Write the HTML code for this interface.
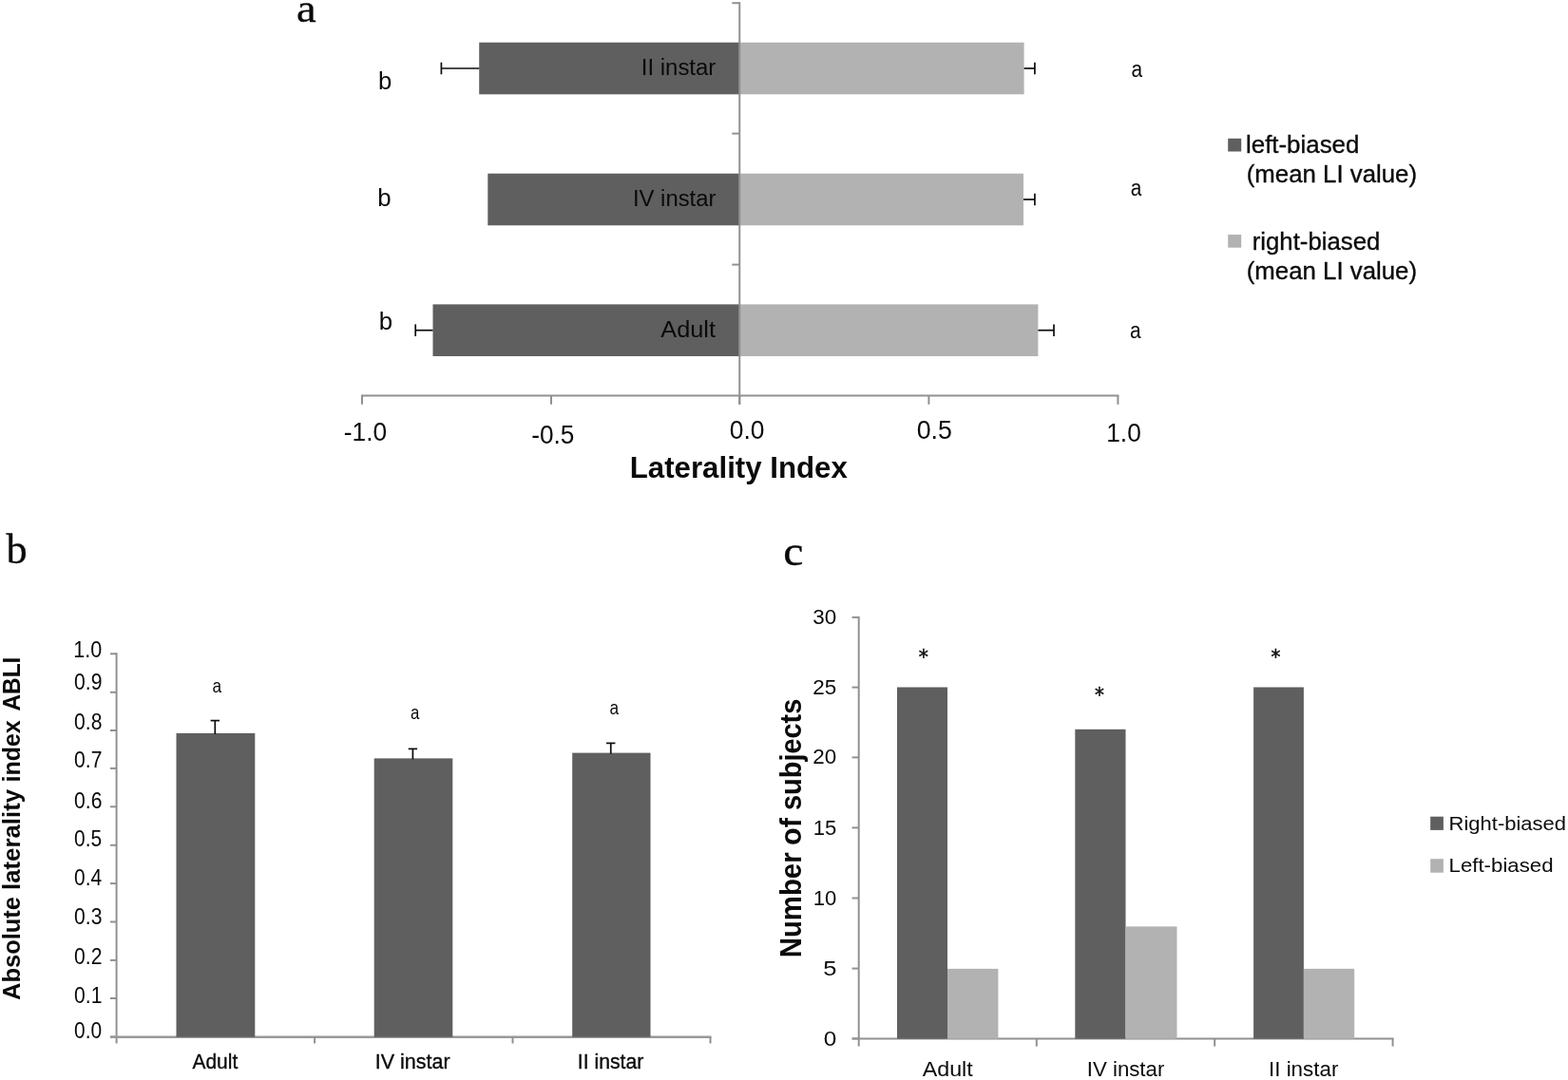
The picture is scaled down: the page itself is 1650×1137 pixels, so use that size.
<!DOCTYPE html>
<html lang="en"><head><meta charset="utf-8"><title>Laterality Index figure</title>
<style>
html,body{margin:0;padding:0;background:#fff}
body{width:1650px;height:1137px;overflow:hidden;font-family:"Liberation Sans",sans-serif}
svg{display:block}
text{white-space:pre}
</style></head><body>
<svg width="1650" height="1137" viewBox="0 0 1650 1137">
<rect width="1650" height="1137" fill="#ffffff"/>
<defs><filter id="soft" x="-2%" y="-2%" width="104%" height="104%" color-interpolation-filters="sRGB"><feGaussianBlur stdDeviation="0.4"/></filter></defs>
<g filter="url(#soft)">
<g id="shapes">
<line x1="770.3" y1="3.2" x2="778.25" y2="3.2" stroke="#919191" stroke-width="2.0"/>
<line x1="770.3" y1="140.6" x2="778.25" y2="140.6" stroke="#919191" stroke-width="2.0"/>
<line x1="770.3" y1="278.6" x2="778.25" y2="278.6" stroke="#919191" stroke-width="2.0"/>
<line x1="380" y1="416.4" x2="1177.4" y2="416.4" stroke="#919191" stroke-width="2.0"/>
<line x1="381" y1="416.4" x2="381" y2="425.8" stroke="#919191" stroke-width="2.0"/>
<line x1="580" y1="416.4" x2="580" y2="425.8" stroke="#919191" stroke-width="2.0"/>
<line x1="778.25" y1="416.4" x2="778.25" y2="425.8" stroke="#919191" stroke-width="2.0"/>
<line x1="977.4" y1="416.4" x2="977.4" y2="425.8" stroke="#919191" stroke-width="2.0"/>
<line x1="1176.4" y1="416.4" x2="1176.4" y2="425.8" stroke="#919191" stroke-width="2.0"/>
<rect x="504.2" y="44.7" width="274.05" height="54.6" fill="#5f5f5f"/>
<rect x="778.25" y="44.7" width="299.35" height="54.6" fill="#b2b2b2"/>
<line x1="464.4" y1="72.0" x2="504.2" y2="72.0" stroke="#0c0c0c" stroke-width="1.7"/>
<line x1="464.4" y1="65.7" x2="464.4" y2="78.3" stroke="#0c0c0c" stroke-width="1.7"/>
<line x1="1077.6" y1="72.0" x2="1088.9" y2="72.0" stroke="#0c0c0c" stroke-width="1.7"/>
<line x1="1088.9" y1="65.7" x2="1088.9" y2="78.3" stroke="#0c0c0c" stroke-width="1.7"/>
<rect x="513.3" y="182.7" width="264.95" height="54.6" fill="#5f5f5f"/>
<rect x="778.25" y="182.7" width="298.75" height="54.6" fill="#b2b2b2"/>
<line x1="1077" y1="210.0" x2="1088.9" y2="210.0" stroke="#0c0c0c" stroke-width="1.7"/>
<line x1="1088.9" y1="203.7" x2="1088.9" y2="216.3" stroke="#0c0c0c" stroke-width="1.7"/>
<rect x="455.5" y="320.4" width="322.75" height="54.6" fill="#5f5f5f"/>
<rect x="778.25" y="320.4" width="314.15" height="54.6" fill="#b2b2b2"/>
<line x1="437.2" y1="347.7" x2="455.5" y2="347.7" stroke="#0c0c0c" stroke-width="1.7"/>
<line x1="437.2" y1="341.4" x2="437.2" y2="354.0" stroke="#0c0c0c" stroke-width="1.7"/>
<line x1="1092.4" y1="347.7" x2="1109" y2="347.7" stroke="#0c0c0c" stroke-width="1.7"/>
<line x1="1109" y1="341.4" x2="1109" y2="354.0" stroke="#0c0c0c" stroke-width="1.7"/>
<line x1="778.25" y1="2.2" x2="778.25" y2="425.8" stroke="#919191" stroke-width="2.0"/>
<rect x="1292.2" y="145.8" width="14" height="13.7" fill="#5f5f5f"/>
<rect x="1292.2" y="247" width="14" height="13.7" fill="#b2b2b2"/>
<line x1="122.6" y1="687.3" x2="122.6" y2="1098.5" stroke="#919191" stroke-width="2.0"/>
<line x1="116" y1="688.3" x2="122.6" y2="688.3" stroke="#919191" stroke-width="2.0"/>
<line x1="116" y1="728.8" x2="122.6" y2="728.8" stroke="#919191" stroke-width="2.0"/>
<line x1="116" y1="769" x2="122.6" y2="769" stroke="#919191" stroke-width="2.0"/>
<line x1="116" y1="808.9" x2="122.6" y2="808.9" stroke="#919191" stroke-width="2.0"/>
<line x1="116" y1="849.3" x2="122.6" y2="849.3" stroke="#919191" stroke-width="2.0"/>
<line x1="116" y1="889.8" x2="122.6" y2="889.8" stroke="#919191" stroke-width="2.0"/>
<line x1="116" y1="930.1" x2="122.6" y2="930.1" stroke="#919191" stroke-width="2.0"/>
<line x1="116" y1="970.5" x2="122.6" y2="970.5" stroke="#919191" stroke-width="2.0"/>
<line x1="116" y1="1010.9" x2="122.6" y2="1010.9" stroke="#919191" stroke-width="2.0"/>
<line x1="116" y1="1051" x2="122.6" y2="1051" stroke="#919191" stroke-width="2.0"/>
<line x1="116" y1="1091.6" x2="122.6" y2="1091.6" stroke="#919191" stroke-width="2.0"/>
<line x1="116" y1="1091.8" x2="748.5" y2="1091.8" stroke="#999999" stroke-width="2.4"/>
<line x1="331.1" y1="1091.8" x2="331.1" y2="1098.5" stroke="#919191" stroke-width="2.0"/>
<line x1="539.5" y1="1091.8" x2="539.5" y2="1098.5" stroke="#919191" stroke-width="2.0"/>
<line x1="747.5" y1="1091.8" x2="747.5" y2="1098.5" stroke="#919191" stroke-width="2.0"/>
<rect x="185.5" y="771.9" width="82.8" height="319.9" fill="#5f5f5f"/>
<line x1="226.3" y1="758.6" x2="226.3" y2="772.9" stroke="#0c0c0c" stroke-width="1.7"/>
<line x1="221.60000000000002" y1="758.6" x2="231.0" y2="758.6" stroke="#0c0c0c" stroke-width="1.7"/>
<rect x="393.7" y="798.4" width="82.6" height="293.4" fill="#5f5f5f"/>
<line x1="434.4" y1="788.4" x2="434.4" y2="799.4" stroke="#0c0c0c" stroke-width="1.7"/>
<line x1="429.7" y1="788.4" x2="439.09999999999997" y2="788.4" stroke="#0c0c0c" stroke-width="1.7"/>
<rect x="602.2" y="792.6" width="82.3" height="299.2" fill="#5f5f5f"/>
<line x1="642.75" y1="782.4" x2="642.75" y2="793.6" stroke="#0c0c0c" stroke-width="1.7"/>
<line x1="638.05" y1="782.4" x2="647.45" y2="782.4" stroke="#0c0c0c" stroke-width="1.7"/>
<line x1="903.7" y1="648.9" x2="903.7" y2="1101.5" stroke="#919191" stroke-width="2.0"/>
<line x1="896.6" y1="649.9" x2="903.7" y2="649.9" stroke="#919191" stroke-width="2.0"/>
<line x1="896.6" y1="723.6" x2="903.7" y2="723.6" stroke="#919191" stroke-width="2.0"/>
<line x1="896.6" y1="797.4" x2="903.7" y2="797.4" stroke="#919191" stroke-width="2.0"/>
<line x1="896.6" y1="871.4" x2="903.7" y2="871.4" stroke="#919191" stroke-width="2.0"/>
<line x1="896.6" y1="945.5" x2="903.7" y2="945.5" stroke="#919191" stroke-width="2.0"/>
<line x1="896.6" y1="1019.6" x2="903.7" y2="1019.6" stroke="#919191" stroke-width="2.0"/>
<line x1="896.6" y1="1093.4" x2="903.7" y2="1093.4" stroke="#919191" stroke-width="2.0"/>
<line x1="896.6" y1="1093.6" x2="1466.6" y2="1093.6" stroke="#919191" stroke-width="2.0"/>
<line x1="1090.8" y1="1093.6" x2="1090.8" y2="1101.6" stroke="#919191" stroke-width="2.0"/>
<line x1="1278.2" y1="1093.6" x2="1278.2" y2="1101.6" stroke="#919191" stroke-width="2.0"/>
<line x1="1465.6" y1="1093.6" x2="1465.6" y2="1101.6" stroke="#919191" stroke-width="2.0"/>
<rect x="944" y="723.5" width="53" height="370.1" fill="#5f5f5f"/>
<rect x="997" y="1019.9" width="53.4" height="73.7" fill="#b2b2b2"/>
<rect x="1131.3" y="767.8" width="53.2" height="325.8" fill="#5f5f5f"/>
<rect x="1184.5" y="975.4" width="54.0" height="118.2" fill="#b2b2b2"/>
<rect x="1319.1" y="723.5" width="52.8" height="370.1" fill="#5f5f5f"/>
<rect x="1371.9" y="1019.9" width="53.3" height="73.7" fill="#b2b2b2"/>
<rect x="1505.2" y="859.7" width="13.7" height="14.2" fill="#5f5f5f"/>
<rect x="1505.2" y="904.2" width="13.7" height="14.5" fill="#b2b2b2"/>
</g>
<g id="labels">
<text id="t0" x="312.0" y="23.0" font-size="41.5" textLength="20.68" lengthAdjust="spacingAndGlyphs" fill="#0a0a0a" stroke="#0a0a0a" stroke-width="0.3" style="font-family:&quot;Liberation Serif&quot;, serif">a</text>
<text id="t1" x="674.75" y="78.8" font-size="23.5" textLength="78.59" lengthAdjust="spacingAndGlyphs" fill="#0a0a0a" style="font-family:&quot;Liberation Sans&quot;, sans-serif">II instar</text>
<text id="t2" x="666.0" y="216.7" font-size="23.5" textLength="87.33" lengthAdjust="spacingAndGlyphs" fill="#0a0a0a" style="font-family:&quot;Liberation Sans&quot;, sans-serif">IV instar</text>
<text id="t3" x="695.25" y="354.5" font-size="23.5" textLength="57.76" lengthAdjust="spacingAndGlyphs" fill="#0a0a0a" style="font-family:&quot;Liberation Sans&quot;, sans-serif">Adult</text>
<text id="t4" x="398.0" y="93.8" font-size="26.4" textLength="14.3" lengthAdjust="spacingAndGlyphs" fill="#0a0a0a" style="font-family:&quot;Liberation Sans&quot;, sans-serif">b</text>
<text id="t5" x="397.25" y="216.9" font-size="26.4" textLength="14.38" lengthAdjust="spacingAndGlyphs" fill="#0a0a0a" style="font-family:&quot;Liberation Sans&quot;, sans-serif">b</text>
<text id="t6" x="398.75" y="347.2" font-size="26.4" textLength="14.38" lengthAdjust="spacingAndGlyphs" fill="#0a0a0a" style="font-family:&quot;Liberation Sans&quot;, sans-serif">b</text>
<text id="t7" x="1190.5" y="80.9" font-size="23.5" textLength="11.62" lengthAdjust="spacingAndGlyphs" fill="#0a0a0a" style="font-family:&quot;Liberation Sans&quot;, sans-serif">a</text>
<text id="t8" x="1189.75" y="206.1" font-size="23.5" textLength="11.59" lengthAdjust="spacingAndGlyphs" fill="#0a0a0a" style="font-family:&quot;Liberation Sans&quot;, sans-serif">a</text>
<text id="t9" x="1189.0" y="355.8" font-size="23.5" textLength="11.62" lengthAdjust="spacingAndGlyphs" fill="#0a0a0a" style="font-family:&quot;Liberation Sans&quot;, sans-serif">a</text>
<text id="t10" x="361.75" y="464.2" font-size="27.4" textLength="45.36" lengthAdjust="spacingAndGlyphs" fill="#0a0a0a" style="font-family:&quot;Liberation Sans&quot;, sans-serif">-1.0</text>
<text id="t11" x="559.25" y="466.5" font-size="27.4" textLength="45.13" lengthAdjust="spacingAndGlyphs" fill="#0a0a0a" style="font-family:&quot;Liberation Sans&quot;, sans-serif">-0.5</text>
<text id="t12" x="767.75" y="461.6" font-size="27.4" textLength="36.62" lengthAdjust="spacingAndGlyphs" fill="#0a0a0a" style="font-family:&quot;Liberation Sans&quot;, sans-serif">0.0</text>
<text id="t13" x="964.75" y="461.6" font-size="27.4" textLength="37.14" lengthAdjust="spacingAndGlyphs" fill="#0a0a0a" style="font-family:&quot;Liberation Sans&quot;, sans-serif">0.5</text>
<text id="t14" x="1164.25" y="465.2" font-size="27.4" textLength="36.52" lengthAdjust="spacingAndGlyphs" fill="#0a0a0a" style="font-family:&quot;Liberation Sans&quot;, sans-serif">1.0</text>
<text id="t15" x="662.75" y="503" font-size="30.5" font-weight="bold" textLength="229.03" lengthAdjust="spacingAndGlyphs" fill="#0a0a0a" style="font-family:&quot;Liberation Sans&quot;, sans-serif">Laterality Index</text>
<text id="t16" x="1311.0" y="160.8" font-size="26" textLength="119.34" lengthAdjust="spacingAndGlyphs" fill="#0a0a0a" stroke="#0a0a0a" stroke-width="0.35" style="font-family:&quot;Liberation Sans&quot;, sans-serif">left-biased</text>
<text id="t17" x="1311.75" y="191.6" font-size="26" textLength="179.3" lengthAdjust="spacingAndGlyphs" fill="#0a0a0a" stroke="#0a0a0a" stroke-width="0.35" style="font-family:&quot;Liberation Sans&quot;, sans-serif">(mean LI value)</text>
<text id="t18" x="1317.75" y="262.5" font-size="26" textLength="134.58" lengthAdjust="spacingAndGlyphs" fill="#0a0a0a" stroke="#0a0a0a" stroke-width="0.35" style="font-family:&quot;Liberation Sans&quot;, sans-serif">right-biased</text>
<text id="t19" x="1311.75" y="293.8" font-size="26" textLength="179.3" lengthAdjust="spacingAndGlyphs" fill="#0a0a0a" stroke="#0a0a0a" stroke-width="0.35" style="font-family:&quot;Liberation Sans&quot;, sans-serif">(mean LI value)</text>
<text id="t20" x="6.5" y="592.7" font-size="44" textLength="22.1" lengthAdjust="spacingAndGlyphs" fill="#0a0a0a" stroke="#0a0a0a" stroke-width="0.3" style="font-family:&quot;Liberation Serif&quot;, serif">b</text>
<text id="t21" x="77.25" y="691.5" font-size="23.3" textLength="29.98" lengthAdjust="spacingAndGlyphs" fill="#0a0a0a" style="font-family:&quot;Liberation Sans&quot;, sans-serif">1.0</text>
<text id="t22" x="78.0" y="726.3" font-size="23.3" textLength="29.39" lengthAdjust="spacingAndGlyphs" fill="#0a0a0a" style="font-family:&quot;Liberation Sans&quot;, sans-serif">0.9</text>
<text id="t23" x="78.0" y="768.0" font-size="23.3" textLength="29.39" lengthAdjust="spacingAndGlyphs" fill="#0a0a0a" style="font-family:&quot;Liberation Sans&quot;, sans-serif">0.8</text>
<text id="t24" x="78.0" y="808.3" font-size="23.3" textLength="29.39" lengthAdjust="spacingAndGlyphs" fill="#0a0a0a" style="font-family:&quot;Liberation Sans&quot;, sans-serif">0.7</text>
<text id="t25" x="78.0" y="850.8" font-size="23.3" textLength="29.39" lengthAdjust="spacingAndGlyphs" fill="#0a0a0a" style="font-family:&quot;Liberation Sans&quot;, sans-serif">0.6</text>
<text id="t26" x="78.0" y="890.9" font-size="23.3" textLength="29.1" lengthAdjust="spacingAndGlyphs" fill="#0a0a0a" style="font-family:&quot;Liberation Sans&quot;, sans-serif">0.5</text>
<text id="t27" x="78.0" y="931.5" font-size="23.3" textLength="29.09" lengthAdjust="spacingAndGlyphs" fill="#0a0a0a" style="font-family:&quot;Liberation Sans&quot;, sans-serif">0.4</text>
<text id="t28" x="78.0" y="972.7" font-size="23.3" textLength="29.39" lengthAdjust="spacingAndGlyphs" fill="#0a0a0a" style="font-family:&quot;Liberation Sans&quot;, sans-serif">0.3</text>
<text id="t29" x="78.0" y="1014.9" font-size="23.3" textLength="29.39" lengthAdjust="spacingAndGlyphs" fill="#0a0a0a" style="font-family:&quot;Liberation Sans&quot;, sans-serif">0.2</text>
<text id="t30" x="78.0" y="1056.3" font-size="23.3" textLength="29.39" lengthAdjust="spacingAndGlyphs" fill="#0a0a0a" style="font-family:&quot;Liberation Sans&quot;, sans-serif">0.1</text>
<text id="t31" x="78.0" y="1092.7" font-size="23.3" textLength="29.1" lengthAdjust="spacingAndGlyphs" fill="#0a0a0a" style="font-family:&quot;Liberation Sans&quot;, sans-serif">0.0</text>
<text id="t32" x="223.5" y="728.7" font-size="21" textLength="9.6" lengthAdjust="spacingAndGlyphs" fill="#0a0a0a" style="font-family:&quot;Liberation Sans&quot;, sans-serif">a</text>
<text id="t33" x="432.0" y="756.8" font-size="21" textLength="9.33" lengthAdjust="spacingAndGlyphs" fill="#0a0a0a" style="font-family:&quot;Liberation Sans&quot;, sans-serif">a</text>
<text id="t34" x="641.5" y="751.6" font-size="21" textLength="9.6" lengthAdjust="spacingAndGlyphs" fill="#0a0a0a" style="font-family:&quot;Liberation Sans&quot;, sans-serif">a</text>
<text id="t35" x="202.5" y="1124.6" font-size="22" textLength="47.75" lengthAdjust="spacingAndGlyphs" fill="#0a0a0a" stroke="#0a0a0a" stroke-width="0.35" style="font-family:&quot;Liberation Sans&quot;, sans-serif">Adult</text>
<text id="t36" x="394.75" y="1125.0" font-size="22" textLength="78.8" lengthAdjust="spacingAndGlyphs" fill="#0a0a0a" stroke="#0a0a0a" stroke-width="0.35" style="font-family:&quot;Liberation Sans&quot;, sans-serif">IV instar</text>
<text id="t37" x="607.75" y="1125.0" font-size="22" textLength="69.57" lengthAdjust="spacingAndGlyphs" fill="#0a0a0a" stroke="#0a0a0a" stroke-width="0.35" style="font-family:&quot;Liberation Sans&quot;, sans-serif">II instar</text>
<text transform="translate(20.8 0) rotate(-90) scale(1 1.05)" font-size="24.35" font-weight="bold" fill="#0a0a0a" style="font-family:&quot;Liberation Sans&quot;, sans-serif"><tspan id="t38" x="-1053.0" textLength="109.03" lengthAdjust="spacingAndGlyphs">Absolute</tspan> <tspan id="t39" x="-937.0" textLength="106.05" lengthAdjust="spacingAndGlyphs">laterality</tspan> <tspan id="t40" x="-823.5" textLength="65.1" lengthAdjust="spacingAndGlyphs">index</tspan> <tspan id="t41" x="-748.5" textLength="56.86" lengthAdjust="spacingAndGlyphs">ABLI</tspan></text>
<text id="t42" x="824.25" y="595.3" font-size="44.2" textLength="21.2" lengthAdjust="spacingAndGlyphs" fill="#0a0a0a" stroke="#0a0a0a" stroke-width="0.3" style="font-family:&quot;Liberation Serif&quot;, serif">c</text>
<text id="t43" x="855.25" y="656.7" font-size="22.3" textLength="24.9" lengthAdjust="spacingAndGlyphs" fill="#0a0a0a" style="font-family:&quot;Liberation Sans&quot;, sans-serif">30</text>
<text id="t44" x="855.25" y="730.5" font-size="22.3" textLength="24.94" lengthAdjust="spacingAndGlyphs" fill="#0a0a0a" style="font-family:&quot;Liberation Sans&quot;, sans-serif">25</text>
<text id="t45" x="855.25" y="804.4" font-size="22.3" textLength="24.92" lengthAdjust="spacingAndGlyphs" fill="#0a0a0a" style="font-family:&quot;Liberation Sans&quot;, sans-serif">20</text>
<text id="t46" x="855.75" y="878.5" font-size="22.3" textLength="24.54" lengthAdjust="spacingAndGlyphs" fill="#0a0a0a" style="font-family:&quot;Liberation Sans&quot;, sans-serif">15</text>
<text id="t47" x="855.75" y="952.9" font-size="22.3" textLength="24.54" lengthAdjust="spacingAndGlyphs" fill="#0a0a0a" style="font-family:&quot;Liberation Sans&quot;, sans-serif">10</text>
<text id="t48" x="866.25" y="1026.8" font-size="22.3" textLength="14.17" lengthAdjust="spacingAndGlyphs" fill="#0a0a0a" style="font-family:&quot;Liberation Sans&quot;, sans-serif">5</text>
<text id="t49" x="866.75" y="1100.7" font-size="22.3" textLength="13.52" lengthAdjust="spacingAndGlyphs" fill="#0a0a0a" style="font-family:&quot;Liberation Sans&quot;, sans-serif">0</text>
<text id="t50" x="966.75" y="698.55" font-size="21" textLength="10.13" lengthAdjust="spacingAndGlyphs" fill="#0a0a0a" stroke="#0a0a0a" stroke-width="0.5" style="font-family:&quot;DejaVu Sans&quot;, &quot;Liberation Sans&quot;, sans-serif">*</text>
<text id="t51" x="1152.0" y="739.15" font-size="21" textLength="9.88" lengthAdjust="spacingAndGlyphs" fill="#0a0a0a" stroke="#0a0a0a" stroke-width="0.5" style="font-family:&quot;DejaVu Sans&quot;, &quot;Liberation Sans&quot;, sans-serif">*</text>
<text id="t52" x="1337.5" y="698.65" font-size="21" textLength="9.88" lengthAdjust="spacingAndGlyphs" fill="#0a0a0a" stroke="#0a0a0a" stroke-width="0.5" style="font-family:&quot;DejaVu Sans&quot;, &quot;Liberation Sans&quot;, sans-serif">*</text>
<text id="t53" x="970.75" y="1132.5" font-size="21.5" textLength="53.0" lengthAdjust="spacingAndGlyphs" fill="#0a0a0a" style="font-family:&quot;Liberation Sans&quot;, sans-serif">Adult</text>
<text id="t54" x="1143.75" y="1132.6" font-size="21.5" textLength="81.57" lengthAdjust="spacingAndGlyphs" fill="#0a0a0a" style="font-family:&quot;Liberation Sans&quot;, sans-serif">IV instar</text>
<text id="t55" x="1335.0" y="1132.6" font-size="21.5" textLength="73.33" lengthAdjust="spacingAndGlyphs" fill="#0a0a0a" style="font-family:&quot;Liberation Sans&quot;, sans-serif">II instar</text>
<text transform="translate(842.8 0) rotate(-90)" font-size="30.6" font-weight="bold" fill="#0a0a0a" style="font-family:&quot;Liberation Sans&quot;, sans-serif"><tspan id="t56" x="-1008.25" textLength="110.8" lengthAdjust="spacingAndGlyphs">Number</tspan> <tspan id="t57" x="-890.0" textLength="28.81" lengthAdjust="spacingAndGlyphs">of</tspan> <tspan id="t58" x="-853.0" textLength="117.3" lengthAdjust="spacingAndGlyphs">subjects</tspan></text>
<text id="t59" x="1524.5" y="873.6" font-size="20.4" textLength="123.58" lengthAdjust="spacingAndGlyphs" fill="#0a0a0a" style="font-family:&quot;Liberation Sans&quot;, sans-serif">Right-biased</text>
<text id="t60" x="1524.5" y="917.5" font-size="20.4" textLength="110.1" lengthAdjust="spacingAndGlyphs" fill="#0a0a0a" style="font-family:&quot;Liberation Sans&quot;, sans-serif">Left-biased</text>
</g>
</g>
</svg>
</body></html>
